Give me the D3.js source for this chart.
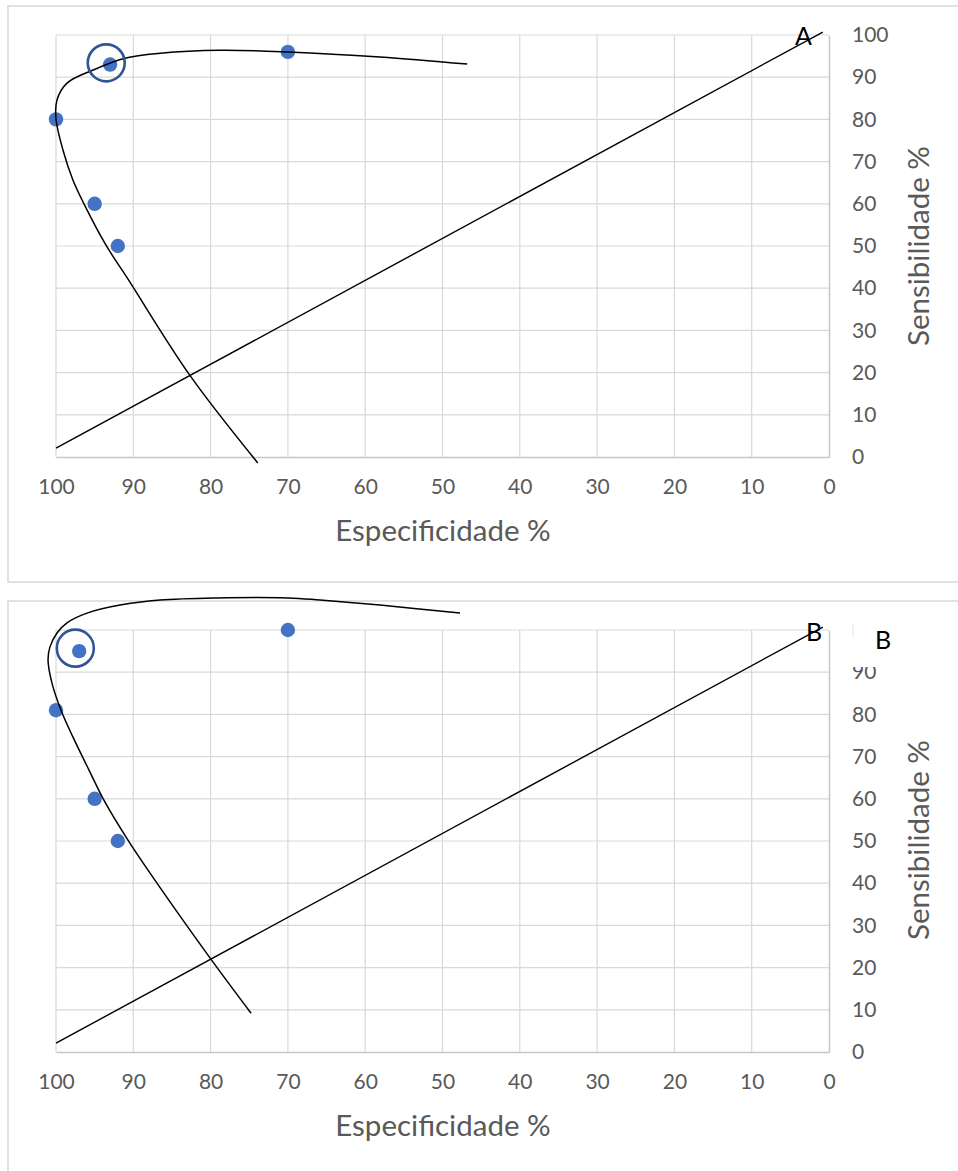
<!DOCTYPE html>
<html>
<head>
<meta charset="utf-8">
<script src="https://cdn.jsdelivr.net/npm/d3@7"></script>
<style>
  html, body { margin: 0; padding: 0; background: #fff; }
  svg { display: block; }
</style>
</head>
<body>
<svg id="chart" width="958" height="1171"></svg>
<script>
// ---------- data ----------
const xTicks = [100, 90, 80, 70, 60, 50, 40, 30, 20, 10, 0];
const yTicks = [0, 10, 20, 30, 40, 50, 60, 70, 80, 90, 100];
const yLabelsA = [0, 10, 20, 30, 40, 50, 60, 70, 80, 90, 100];
const yLabelsB = [0, 10, 20, 30, 40, 50, 60, 70, 80, 90]; // "100" hidden behind the text box in B
const xTitle = "Especificidade %";
const yTitle = "Sensibilidade %";

// Panel A
const specA = [100, 93, 70, 95, 92];
const sensA = [80, 93, 96, 60, 50];
const highlightA = [93.5, 93.4];
const curveA_spec = [73.9, 82.7, 90.6, 93.53, 96.38, 97.8, 99.09, 100.0, 99.87, 98.58, 95.2, 91.1, 86.5, 78.8, 70.0, 58.1, 46.8];
const curveA_sens = [-1.4, 19.4, 41.9, 50.2, 60.0, 65.6, 72.7, 80.1, 84.6, 88.6, 91.7, 94.5, 95.7, 96.4, 96.0, 94.8, 93.1];
const diagA_spec = [100, 0.8];
const diagA_sens = [2.1, 100.7];

// Panel B
const specB = [100, 97, 70, 95, 92];
const sensB = [81, 95, 100, 60, 50];
const highlightB = [97.5, 95.7];
const curveB_spec = [74.77, 80.08, 88.1, 90.69, 93.66, 95.73, 97.8, 99.35, 100.52, 101.03, 100.78, 99.87, 98.58, 95.99, 91.72, 86.55, 79.17, 69.99, 65.85, 58.09, 47.74];
const curveB_sens = [9.2, 22.3, 43.1, 50.2, 59.2, 66.8, 74.6, 81.0, 87.4, 92.9, 96.0, 99.3, 101.7, 104.0, 105.9, 107.1, 107.6, 107.6, 107.1, 105.9, 104.0];
const diagB_spec = [100, 0.8];
const diagB_sens = [2.1, 100.7];

// ---------- drawing ----------
const svg = d3.select("#chart");
const FONT = "Lato, 'Open Sans', sans-serif";
const x = d3.scaleLinear().domain([100, 0]).range([56, 829]);

function panel(opts) {
  const g = svg.append("g");
  // outer frame
  g.append("rect").attr("x", 8).attr("y", opts.frameY).attr("width", 980).attr("height", opts.frameH)
    .attr("fill", "none").attr("stroke", "#d9d9d9").attr("stroke-width", 1.5);

  const y = d3.scaleLinear().domain([0, 100]).range([opts.bottom, opts.top]);

  // gridlines
  g.append("g").selectAll("line").data(xTicks.filter(d => d !== 0)).join("line")
    .attr("x1", d => x(d)).attr("x2", d => x(d)).attr("y1", y(0)).attr("y2", y(100))
    .attr("stroke", "#d9d9d9").attr("stroke-width", 1.2);
  g.append("g").selectAll("line").data(yTicks.filter(d => d !== 0)).join("line")
    .attr("x1", x(100)).attr("x2", x(0)).attr("y1", d => y(d)).attr("y2", d => y(d))
    .attr("stroke", "#d9d9d9").attr("stroke-width", 1.2);

  // axes
  const xAxis = g.append("g").attr("transform", `translate(0,${y(0)})`)
    .call(d3.axisBottom(x).tickValues(xTicks).tickSize(0).tickPadding(22).tickFormat(d3.format("d")));
  xAxis.select(".domain").attr("stroke", "#c6c6c6").attr("stroke-width", 1.5);
  xAxis.selectAll("text").attr("fill", "#595959").style("font-family", FONT).style("font-size", "21px");

  const yAxis = g.append("g").attr("transform", `translate(${x(0)},0)`)
    .call(d3.axisRight(y).tickValues(opts.yLabels).tickSize(0).tickPadding(23).tickFormat(d3.format("d")));
  yAxis.select(".domain").attr("stroke", "#c6c6c6").attr("stroke-width", 1.5);
  yAxis.selectAll("text").attr("fill", "#595959").style("font-family", FONT).style("font-size", "21px");

  // titles
  g.append("text").attr("x", 443).attr("y", opts.xTitleY).attr("text-anchor", "middle")
    .attr("fill", "#595959").style("font-family", FONT).style("font-size", "29.5px").text(xTitle);
  g.append("text").attr("transform", `translate(929,${opts.yTitleCY}) rotate(-90)`).attr("text-anchor", "middle")
    .attr("fill", "#595959").style("font-family", FONT).style("font-size", "29.5px").text(yTitle);

  // diagonal
  const line = d3.line().x(d => x(d[0])).y(d => y(d[1]));
  g.append("path").datum(d3.zip(opts.diagX, opts.diagY)).attr("d", line)
    .attr("fill", "none").attr("stroke", "#000").attr("stroke-width", 1.4);

  // points
  g.append("g").selectAll("circle").data(d3.zip(opts.px, opts.py)).join("circle")
    .attr("cx", d => x(d[0])).attr("cy", d => y(d[1])).attr("r", 7.2).attr("fill", "#4472C4");

  // hand-drawn curve
  const curve = d3.line().x(d => x(d[0])).y(d => y(d[1])).curve(d3.curveCatmullRom.alpha(0.5));
  g.append("path").datum(d3.zip(opts.cx, opts.cy)).attr("d", curve)
    .attr("fill", "none").attr("stroke", "#000").attr("stroke-width", 1.5);

  // highlight circle
  g.append("circle").attr("cx", x(opts.hl[0])).attr("cy", y(opts.hl[1])).attr("r", 18.5)
    .attr("fill", "none").attr("stroke", "#2F5597").attr("stroke-width", 2.6);

  return {g, y};
}

// Panel A
const A = panel({frameY: 6, frameH: 576, top: 35, bottom: 457, xTitleY: 541, yTitleCY: 246, yLabels: yLabelsA,
  px: specA, py: sensA, hl: highlightA, cx: curveA_spec, cy: curveA_sens, diagX: diagA_spec, diagY: diagA_sens});
A.g.append("text").attr("x", 795).attr("y", 45).attr("fill", "#000")
  .style("font-family", FONT).style("font-size", "25px").text("A");

// Panel B
const B = panel({frameY: 601, frameH: 620, top: 630, bottom: 1052, xTitleY: 1136, yTitleCY: 840, yLabels: yLabelsB,
  px: specB, py: sensB, hl: highlightB, cx: curveB_spec, cy: curveB_sens, diagX: diagB_spec, diagY: diagB_sens});
// text box overlapping the top of the axis labels
B.g.append("rect").attr("x", 853).attr("y", 612).attr("width", 105).attr("height", 55).attr("fill", "#fff");
B.g.append("line").attr("x1", 853).attr("x2", 853).attr("y1", 624).attr("y2", 638)
  .attr("stroke", "#e6e6e6").attr("stroke-width", 1);
B.g.append("text").attr("x", 806).attr("y", 641).attr("fill", "#000")
  .style("font-family", FONT).style("font-size", "25px").text("B");
B.g.append("text").attr("x", 875).attr("y", 649).attr("fill", "#000")
  .style("font-family", FONT).style("font-size", "25px").text("B");
</script>
</body>
</html>
